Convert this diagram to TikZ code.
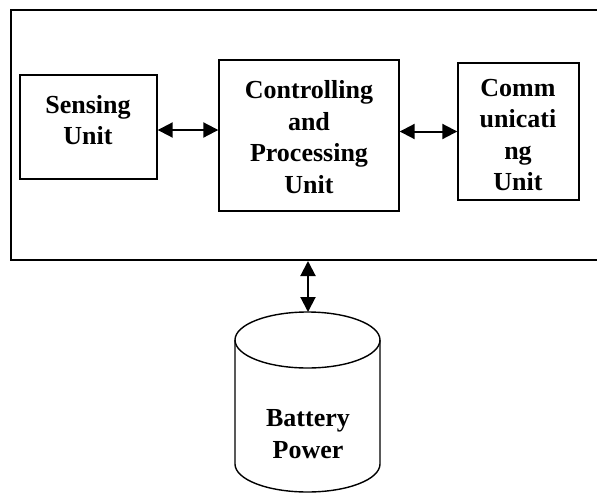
\documentclass[tikz,border=0pt]{standalone}
\usepackage{fontspec}
\setmainfont{Liberation Serif}
\usetikzlibrary{arrows.meta}
\begin{document}
\begin{tikzpicture}[x=1pt,y=-1pt,
  box/.style={draw,line width=1.4pt,inner sep=0pt},
  lbl/.style={font=\bfseries\fontsize{26}{31.5}\selectfont,align=center,inner sep=0pt},
  arr/.style={line width=2pt,{Triangle[length=15pt,width=15pt]}-{Triangle[length=15pt,width=15pt]}}]
\useasboundingbox (0,0) rectangle (597,493);
\clip (0,0) rectangle (597,493);
\node[draw,line width=2pt,inner sep=0pt,minimum width=594pt,minimum height=250pt] (outer) at (308,135) {};
\node[box,minimum width=137pt,minimum height=104pt] (sens) at (88.5,127) {};
\node[box,minimum width=180pt,minimum height=151pt] (ctrl) at (309,135.5) {};
\node[box,minimum width=121pt,minimum height=137pt] (comm) at (518.5,131.5) {};
\node[lbl] (senst) at (88,120) {Sensing\\Unit};
\node[lbl] (ctrlt) at (309,137) {Controlling\\and\\Processing\\Unit};
\node[lbl] (commt) at (518,135) {Comm\\unicati\\ng\\Unit};
% cylinder
\draw[line width=1.4pt] (307.5,340) ellipse [x radius=72.5, y radius=28];
\draw[line width=1.4pt] (235,340) -- (235,464) arc[start angle=180,end angle=360,x radius=72.5,y radius=-28] -- (380,340);
\coordinate (battop) at (308,312);
\node[lbl] (batt) at (308,434) {Battery\\Power};
\draw[arr] ([yshift=-3pt]sens.east) -- ([yshift=-3pt]sens.east -| ctrl.west);
\draw[arr] (comm.west -| ctrl.east) -- (comm.west);
\draw[arr] (outer.south) -- (battop);
\end{tikzpicture}
\end{document}
